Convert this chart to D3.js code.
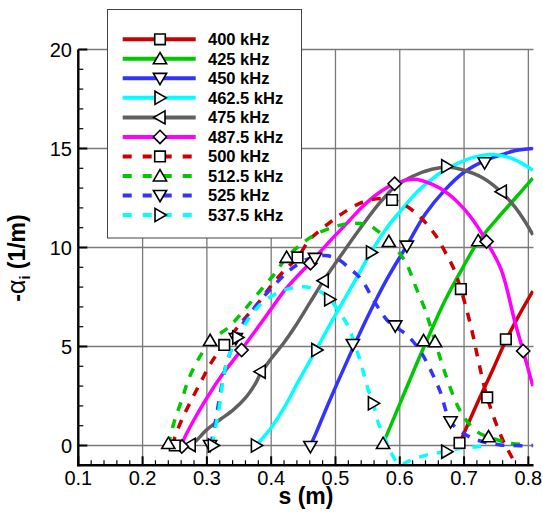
<!DOCTYPE html>
<html><head><meta charset="utf-8">
<script src="https://cdn.jsdelivr.net/npm/d3@7"></script>
<style>body{margin:0;background:#fff} svg{display:block}</style>
</head><body>
<svg id="chart" width="543" height="515"></svg>
<script>
// ---------- data ----------
const xTicks = [0.1,0.2,0.3,0.4,0.5,0.6,0.7,0.8];
const yTicks = [0,5,10,15,20];
const seriesLabels = ["400 kHz","425 kHz","450 kHz","462.5 kHz","475 kHz","487.5 kHz","500 kHz","512.5 kHz","525 kHz","537.5 kHz"];

const s400 = [0.693,0.699,0.72,0.745,0.765,0.785,0.807];
const a400 = [0.1,0.55,2.1,3.85,5.3,6.55,7.8];
const s425 = [0.574,0.58,0.60,0.62,0.642,0.67,0.70,0.722,0.75,0.78,0.807];
const a425 = [0.1,0.55,2.1,3.65,5.3,7.3,9.1,10.3,11.4,12.5,13.5];
const s450 = [0.461,0.47,0.49,0.52,0.55,0.58,0.611,0.64,0.67,0.70,0.73,0.76,0.78,0.807];
const a450 = [0,0.65,2.2,4.4,6.5,8.4,10.1,11.7,12.9,13.8,14.35,14.7,14.9,15.0];
const s462 = [0.377,0.382,0.40,0.42,0.445,0.471,0.50,0.53,0.556,0.58,0.60,0.63,0.66,0.69,0.72,0.745,0.77,0.79,0.807];
const a462 = [0,0.2,0.9,1.9,3.4,4.9,6.6,8.3,9.8,11.0,11.8,12.9,13.7,14.25,14.6,14.7,14.55,14.25,13.9];
const s475 = [0.274,0.282,0.30,0.32,0.341,0.36,0.375,0.383,0.398,0.42,0.437,0.46,0.481,0.515,0.546,0.57,0.592,0.62,0.65,0.675,0.70,0.73,0.758,0.779,0.795,0.807];
const a475 = [0,0.2,0.8,1.3,1.8,2.4,3.1,3.6,4.3,5.2,6.0,7.2,8.3,9.9,11.3,12.3,13.05,13.6,13.95,14.05,13.9,13.5,12.8,12.05,11.3,10.64];
const s487 = [0.261,0.264,0.28,0.30,0.32,0.341,0.354,0.38,0.40,0.42,0.445,0.463,0.492,0.517,0.54,0.565,0.592,0.622,0.65,0.676,0.70,0.72,0.735,0.758,0.779,0.792,0.807];
const a487 = [0,0.3,1.3,2.4,3.4,4.3,4.85,6.0,6.9,7.8,8.7,9.3,10.35,11.2,12.0,12.7,13.22,13.45,13.2,12.7,11.95,11.1,10.3,8.86,6.25,4.77,3.0];
const s500 = [0.247,0.25,0.261,0.276,0.292,0.307,0.327,0.357,0.38,0.403,0.424,0.441,0.46,0.485,0.512,0.543,0.572,0.588,0.605,0.631,0.657,0.673,0.683,0.695,0.712,0.722,0.736,0.758,0.771,0.782];
const a500 = [0,0.4,1.3,2.3,3.3,4.2,5.1,6.34,7.2,8.2,8.95,9.5,10.4,11.1,11.75,12.3,12.48,12.4,12.2,11.56,10.55,9.62,9.0,7.9,5.83,4.32,2.43,0.44,-0.39,-1.05];
const s512 = [0.240,0.243,0.25,0.261,0.271,0.284,0.295,0.305,0.333,0.357,0.38,0.406,0.424,0.45,0.471,0.502,0.525,0.551,0.567,0.583,0.6,0.613,0.625,0.64,0.655,0.67,0.69,0.705,0.725,0.738,0.771,0.795];
const a512 = [0,0.44,1.29,2.3,3.3,4.2,4.8,5.3,5.95,6.8,7.7,8.7,9.5,10.25,10.7,11.08,11.22,11.12,10.8,10.3,9.7,9.0,8.0,6.8,5.24,3.7,2.0,1.2,0.6,0.44,0.11,0.05];
const s525 = [0.306,0.312,0.318,0.324,0.331,0.34,0.357,0.38,0.405,0.429,0.453,0.468,0.484,0.504,0.52,0.541,0.559,0.58,0.593,0.611,0.631,0.645,0.662,0.679,0.699,0.72,0.756,0.807];
const a525 = [0,1.0,2.1,3.2,4.2,5.0,6.2,7.2,8.1,8.86,9.37,9.5,9.6,9.4,9.0,8.36,7.35,6.34,6.0,5.58,4.82,4.0,2.8,1.2,0.62,0.28,0.03,0];
const s537 = [0.308,0.314,0.32,0.325,0.331,0.34,0.348,0.365,0.385,0.414,0.44,0.455,0.475,0.491,0.504,0.52,0.53,0.538,0.545,0.551,0.559,0.565,0.58,0.593,0.601,0.61,0.624,0.645,0.673,0.694,0.72,0.74];
const a537 = [0,1.0,2.1,3.3,4.2,5.0,5.46,6.4,7.18,7.77,8.0,8.0,7.8,7.38,6.84,6.0,5.1,4.32,3.5,2.8,2.13,1.3,0.11,-0.73,-0.98,-0.85,-0.65,-0.45,-0.3,-0.14,-0.06,0];

// marker positions (symbols drawn along each curve)
const ms400 = [0.693,0.765], ma400 = [0.13,5.36];
const ms425 = [0.574,0.637,0.722], ma425 = [0.1,5.29,10.34];
const ms450 = [0.461,0.527,0.611,0.732], ma450 = [-0.05,5.1,10.07,14.28];
const ms462 = [0.377,0.471,0.556,0.673], ma462 = [0,4.82,9.75,14.1];
const ms475 = [0.274,0.383,0.481,0.758], ma475 = [0.03,3.73,8.32,12.82];
const ms487 = [0.261,0.354,0.461,0.592,0.735,0.792], ma487 = [-0.05,4.82,9.2,13.22,10.3,4.77];
const ms500 = [0.25,0.327,0.441,0.588,0.695,0.736], ma500 = [0,5.08,9.5,12.4,7.9,2.43];
const ms512 = [0.240,0.305,0.424,0.583,0.655,0.738], ma512 = [0.1,5.3,9.5,10.3,5.24,0.44];
const ms525 = [0.305,0.345,0.468,0.593,0.679], ma525 = [0,5.4,9.45,6.04,1.2];
const ms537 = [0.31,0.348,0.491,0.559,0.673], ma537 = [0,5.46,7.38,2.13,-0.31];

// ---------- styles ----------
const colors = ["#cc0000","#00c800","#3333ff","#00ffff","#606060","#ff00ff","#cc0000","#00c800","#3333ff","#00ffff"];
const dashed = [false,false,false,false,false,false,true,true,true,true];
const shapes = ["square","up","down","right","left","diamond","square","up","down","right"];

const series = [
  [s400,a400,ms400,ma400],[s425,a425,ms425,ma425],[s450,a450,ms450,ma450],
  [s462,a462,ms462,ma462],[s475,a475,ms475,ma475],[s487,a487,ms487,ma487],
  [s500,a500,ms500,ma500],[s512,a512,ms512,ma512],[s525,a525,ms525,ma525],
  [s537,a537,ms537,ma537]
].map((d,i)=>({label:seriesLabels[i], s:d[0], a:d[1], ms:d[2], ma:d[3],
  color:colors[i], dashed:dashed[i], shape:shapes[i]}));

// ---------- layout ----------
const svg = d3.select("#chart");
const x = d3.scaleLinear().domain([0.1,0.808]).range([78.3,533.5]);
const y = d3.scaleLinear().domain([-1,20]).range([465.3,49.5]);
const font = "'Liberation Sans', Arial, Helvetica, sans-serif";

svg.append("defs").append("clipPath").attr("id","clip")
  .append("rect").attr("x",x(0.1)).attr("y",y(20)).attr("width",x(0.808)-x(0.1)).attr("height",y(-1)-y(20));

// grid
const grid = svg.append("g").attr("stroke","#7a7a7a").attr("stroke-width",1.3);
xTicks.slice(1).forEach(t=>grid.append("line").attr("x1",x(t)).attr("x2",x(t)).attr("y1",y(-1)).attr("y2",y(20)));
yTicks.forEach(t=>grid.append("line").attr("x1",x(0.1)).attr("x2",x(0.808)).attr("y1",y(t)).attr("y2",y(t)));

// curves
const line = d3.line().x(d=>x(d[0])).y(d=>y(d[1])).curve(d3.curveCatmullRom.alpha(0.5));
const curves = svg.append("g").attr("clip-path","url(#clip)");
series.forEach(sr=>{
  const pts = sr.s.map((v,i)=>[v,sr.a[i]]);
  curves.append("path").attr("d",line(pts)).attr("fill","none")
    .attr("stroke",sr.color).attr("stroke-width",3.5)
    .attr("stroke-dasharray",sr.dashed?"9,9":null);
});

// marker symbols
function markerPath(shape){
  switch(shape){
    case "square": return "M-5.3,-5.3H5.3V5.3H-5.3Z";
    case "up": return "M0,-6.3L6.6,5L-6.6,5Z";
    case "down": return "M0,6.3L6.6,-5L-6.6,-5Z";
    case "right": return "M6.3,0L-5,-6.6L-5,6.6Z";
    case "left": return "M-6.3,0L5,-6.6L5,6.6Z";
    case "diamond": return "M0,-6.6L6.6,0L0,6.6L-6.6,0Z";
  }
}
const marks = svg.append("g");
series.forEach(sr=>{
  sr.ms.forEach((v,i)=>{
    marks.append("path").attr("d",markerPath(sr.shape))
      .attr("transform",`translate(${x(v)},${y(sr.ma[i])})`)
      .attr("fill","#fff").attr("stroke","#000").attr("stroke-width",1.6);
  });
});

// axes
const ax = svg.append("g").attr("stroke","#000");
ax.append("line").attr("x1",x(0.1)).attr("x2",x(0.1)).attr("y1",y(-1)+1).attr("y2",y(20)).attr("stroke-width",2.4);
ax.append("line").attr("x1",x(0.1)-1).attr("x2",x(0.808)).attr("y1",y(-1)).attr("y2",y(-1)).attr("stroke-width",2.4);
// x ticks
d3.range(0.1,0.8081,0.02).forEach(t=>{
  const major = xTicks.some(m=>Math.abs(m-t)<1e-6);
  ax.append("line").attr("x1",x(t)).attr("x2",x(t)).attr("y1",y(-1)).attr("y2",y(-1)-(major?9:5)).attr("stroke-width",major?2:1.2);
});
// y ticks
d3.range(0,20.01,1).forEach(t=>{
  const major = yTicks.some(m=>Math.abs(m-t)<1e-6);
  ax.append("line").attr("x1",x(0.1)).attr("x2",x(0.1)+(major?9:5)).attr("y1",y(t)).attr("y2",y(t)).attr("stroke-width",major?2:1.2);
});
// tick labels
const tl = svg.append("g").attr("font-family",font).attr("font-size",20).attr("fill","#000");
xTicks.forEach(t=>tl.append("text").attr("x",x(t)).attr("y",485).attr("text-anchor","middle").text(t.toFixed(1)));
yTicks.forEach(t=>tl.append("text").attr("x",72).attr("y",y(t)+7).attr("text-anchor","end").text(t));

// axis titles
svg.append("text").attr("x",306).attr("y",503.5).attr("text-anchor","middle")
  .attr("font-family",font).attr("font-size",23).attr("font-weight","bold").text("s (m)");
const yt = svg.append("text").attr("transform","translate(25,258) rotate(-90)").attr("text-anchor","middle")
  .attr("font-family",font).attr("font-size",23).attr("font-weight","bold");
yt.append("tspan").text("-");
yt.append("tspan").attr("font-weight","normal").attr("font-size",25).text("α");
yt.append("tspan").attr("font-size",14).attr("dy",5).text("i");
yt.append("tspan").attr("dy",-5).text(" (1/m)");

// legend
const lg = svg.append("g");
lg.append("rect").attr("x",107.5).attr("y",9.5).attr("width",194).attr("height",228.5)
  .attr("fill","#fff").attr("stroke","#444").attr("stroke-width",1);
series.forEach((sr,i)=>{
  const ly = 39.3 + i*19.52;
  lg.append("line").attr("x1",122.7).attr("x2",sr.dashed?191.7:195.7).attr("y1",ly).attr("y2",ly)
    .attr("stroke",sr.color).attr("stroke-width",4).attr("stroke-dasharray",sr.dashed?"9,11":null);
  lg.append("path").attr("d",markerPath(sr.shape)).attr("transform",`translate(160,${ly})`)
    .attr("fill","#fff").attr("stroke","#000").attr("stroke-width",1.6);
  lg.append("text").attr("x",208).attr("y",ly+6).attr("font-family",font).attr("font-size",16.5)
    .attr("font-weight","bold").text(sr.label);
});
</script>
</body></html>
